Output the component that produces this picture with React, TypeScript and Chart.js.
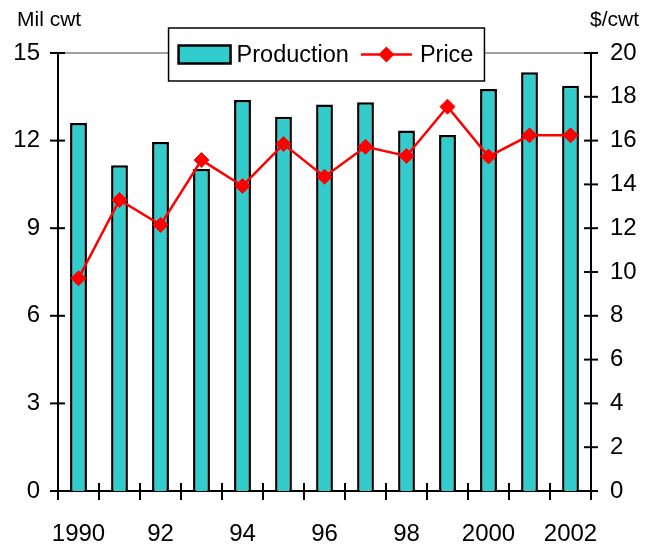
import React, { useEffect, useRef } from 'react';
import { Chart, registerables } from 'chart.js';

Chart.register(...registerables);

const years = ['1990', '1991', '1992', '1993', '1994', '1995', '1996', '1997', '1998', '1999', '2000', '2001', '2002'];
const xTickLabels = ['1990', '', '92', '', '94', '', '96', '', '98', '', '2000', '', '2002'];
const production = [12.6, 11.16, 11.95, 11.03, 13.39, 12.82, 13.24, 13.31, 12.35, 12.19, 13.77, 14.34, 13.88];
const price = [9.71, 13.29, 12.15, 15.11, 13.93, 15.84, 14.35, 15.72, 15.3, 17.55, 15.27, 16.24, 16.24];
const leftTicks = [0, 3, 6, 9, 12, 15];
const rightTicks = [0, 2, 4, 6, 8, 10, 12, 14, 16, 18, 20];
const leftTitle = 'Mil cwt';
const rightTitle = '$/cwt';
const seriesNames = ['Production', 'Price'];

const FONT = "'Liberation Sans', Arial, sans-serif";
const TEAL = '#33CCCC';
const RED = '#FF0000';

function line(ctx: CanvasRenderingContext2D, x1: number, y1: number, x2: number, y2: number) {
  ctx.beginPath();
  ctx.moveTo(x1, y1);
  ctx.lineTo(x2, y2);
  ctx.stroke();
}

const decor = {
  id: 'decor',
  beforeDatasetsDraw(chart: any) {
    const { ctx, chartArea: a, scales } = chart;
    const yTop = scales.y.getPixelForValue(leftTicks[leftTicks.length - 1]);
    ctx.save();
    ctx.strokeStyle = '#808080';
    ctx.lineWidth = 1.5;
    line(ctx, a.left, yTop, a.right, yTop);
    ctx.restore();
  },
  afterDraw(chart: any) {
    const { ctx, chartArea: a, scales } = chart;
    ctx.save();
    ctx.strokeStyle = '#000';
    ctx.lineWidth = 2;
    leftTicks.forEach((v) => {
      const y = scales.y.getPixelForValue(v);
      line(ctx, a.left - 8, y, a.left + 7, y);
    });
    rightTicks.forEach((v) => {
      const y = scales.y1.getPixelForValue(v);
      line(ctx, a.right - 7, y, a.right + 7, y);
    });
    for (let i = 0; i <= years.length; i++) {
      const x = scales.x.getPixelForValue(i - 0.5);
      line(ctx, x, a.bottom - 8, x, a.bottom + 9);
    }

    // axis titles
    ctx.fillStyle = '#000';
    ctx.font = `21px ${FONT}`;
    ctx.textBaseline = 'middle';
    ctx.textAlign = 'left';
    ctx.fillText(leftTitle, 17, 20);
    ctx.fillText(rightTitle, a.right - 1, 20);

    // legend
    ctx.font = `23.5px ${FONT}`;
    const w1 = ctx.measureText(seriesNames[0]).width;
    const w2 = ctx.measureText(seriesNames[1]).width;
    const padL = 10, swW = 52, swH = 18, g1 = 6, g2 = 12, lnW = 51, g3 = 8, padR = 11;
    const totalW = padL + swW + g1 + w1 + g2 + lnW + g3 + w2 + padR;
    const boxH = 53;
    const cx = (a.left + a.right) / 2 + 2;
    const bx = cx - totalW / 2;
    const by = a.top - 25;
    const my = by + boxH / 2;
    ctx.fillStyle = '#fff';
    ctx.fillRect(bx, by, totalW, boxH);
    ctx.lineWidth = 1.5;
    ctx.strokeStyle = '#000';
    ctx.strokeRect(bx, by, totalW, boxH);

    let x = bx + padL;
    ctx.fillStyle = TEAL;
    ctx.fillRect(x, my - swH / 2, swW, swH);
    ctx.lineWidth = 2.5;
    ctx.strokeRect(x, my - swH / 2, swW, swH);
    x += swW + g1;
    ctx.fillStyle = '#000';
    ctx.fillText(seriesNames[0], x, my + 1);
    x += w1 + g2;
    ctx.strokeStyle = RED;
    ctx.lineWidth = 2.5;
    line(ctx, x, my, x + lnW, my);
    const dx = x + lnW / 2;
    const r = 8;
    ctx.fillStyle = RED;
    ctx.beginPath();
    ctx.moveTo(dx, my - r);
    ctx.lineTo(dx + r, my);
    ctx.lineTo(dx, my + r);
    ctx.lineTo(dx - r, my);
    ctx.closePath();
    ctx.fill();
    x += lnW + g3;
    ctx.fillStyle = '#000';
    ctx.fillText(seriesNames[1], x, my + 1);
    ctx.restore();
  },
};

export default function App() {
  const ref = useRef<HTMLCanvasElement | null>(null);
  useEffect(() => {
    if (!ref.current) return;
    const chart = new Chart(ref.current, {
      type: 'bar',
      data: {
        labels: years,
        datasets: [
          {
            type: 'line',
            label: seriesNames[1],
            data: price,
            yAxisID: 'y1',
            borderColor: RED,
            backgroundColor: RED,
            borderWidth: 2.5,
            pointStyle: 'rectRot',
            pointRadius: 7.5,
            pointBackgroundColor: RED,
            pointBorderColor: RED,
            pointBorderWidth: 1,
            tension: 0,
            order: 1,
          } as any,
          {
            type: 'bar',
            label: seriesNames[0],
            data: production,
            yAxisID: 'y',
            backgroundColor: TEAL,
            borderColor: '#000',
            borderWidth: 2.5,
            categoryPercentage: 1,
            barPercentage: 0.41,
            order: 2,
          },
        ],
      },
      options: {
        animation: false,
        responsive: false,
        maintainAspectRatio: false,
        layout: { padding: { top: 53, left: 0, right: 0, bottom: 0 } },
        plugins: {
          legend: { display: false },
          tooltip: { enabled: false },
          title: { display: false },
        },
        scales: {
          x: {
            type: 'category',
            offset: true,
            grid: { display: false, drawTicks: false },
            border: { display: true, color: '#000', width: 2 },
            ticks: {
              autoSkip: false,
              maxRotation: 0,
              minRotation: 0,
              padding: 29,
              color: '#000',
              font: { family: FONT, size: 24 },
              callback: (_v: any, i: number) => xTickLabels[i],
            },
            afterFit: (s: any) => {
              s.height = 57;
            },
          },
          y: {
            position: 'left',
            min: 0,
            max: 15,
            grid: { display: false, drawTicks: false },
            border: { display: true, color: '#000', width: 2 },
            ticks: {
              stepSize: 3,
              padding: 18,
              color: '#000',
              font: { family: FONT, size: 24 },
            },
            afterFit: (s: any) => {
              s.width = 58;
            },
          },
          y1: {
            position: 'right',
            min: 0,
            max: 20,
            grid: { display: false, drawTicks: false },
            border: { display: true, color: '#000', width: 2 },
            ticks: {
              stepSize: 2,
              padding: 19,
              color: '#000',
              font: { family: FONT, size: 24 },
            },
            afterFit: (s: any) => {
              s.width = 64;
            },
          },
        },
      },
      plugins: [decor],
    });
    return () => chart.destroy();
  }, []);
  return (
    <div style={{ position: 'absolute', left: 0, top: 0, width: 655, height: 548, background: '#fff' }}>
      <canvas ref={ref} width={655} height={548} style={{ display: 'block' }} />
    </div>
  );
}
